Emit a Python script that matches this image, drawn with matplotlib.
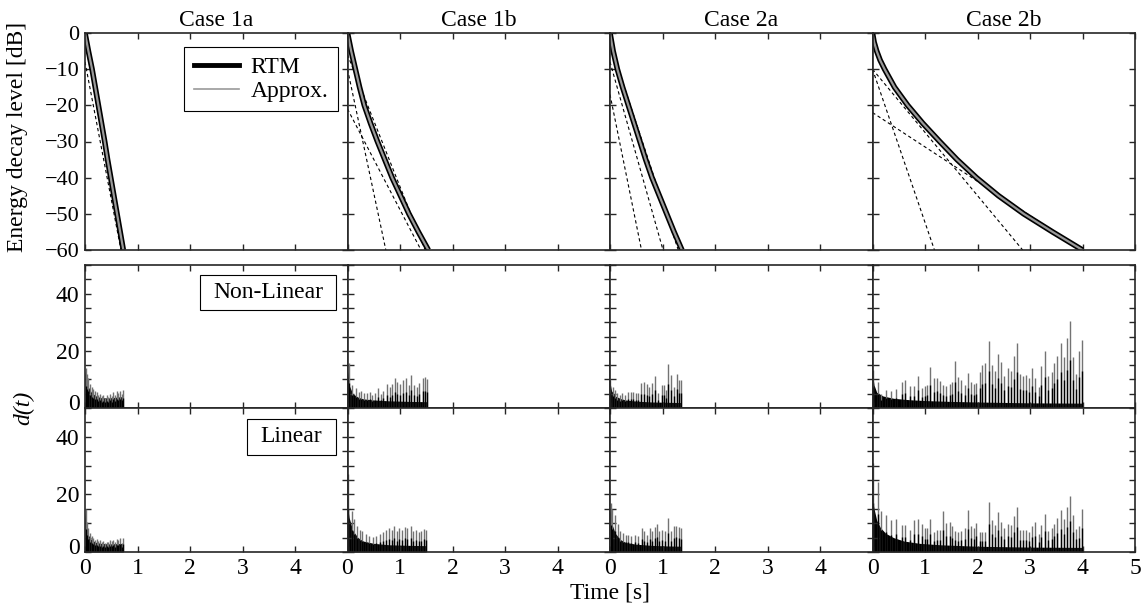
import matplotlib
matplotlib.use('Agg')
import matplotlib.pyplot as plt
import matplotlib.transforms as mtransforms
from matplotlib.lines import Line2D
from matplotlib.patches import Rectangle
from matplotlib.ticker import FixedLocator, FuncFormatter

plt.rcParams['font.family'] = ['Liberation Serif', 'DejaVu Serif']
plt.rcParams['font.size'] = 17

# ---------------- data ----------------
cases = ['Case 1a', 'Case 1b', 'Case 2a', 'Case 2b']
row_labels = ['Non-Linear', 'Linear']

# energy decay curves (time in s at the given levels in dB)
db_levels = [0, -5, -10, -15, -20, -25, -30, -35, -40, -45, -50, -55, -60]
rtm_1a_t = [0, 0.065, 0.135, 0.195, 0.255, 0.315, 0.375, 0.43, 0.49, 0.55, 0.61, 0.67, 0.73]
rtm_1b_t = [0, 0.07, 0.15, 0.23, 0.32, 0.44, 0.57, 0.71, 0.85, 1.01, 1.17, 1.35, 1.54]
rtm_2a_t = [0, 0.06, 0.14, 0.24, 0.35, 0.46, 0.57, 0.68, 0.80, 0.94, 1.08, 1.22, 1.37]
db_levels_2b = [0, -2.5, -5, -7.5, -10, -15, -20, -25, -30, -35, -40, -45, -50, -55, -60]
rtm_2b_t = [0, 0.03, 0.08, 0.145, 0.23, 0.42, 0.67, 0.96, 1.28, 1.61, 1.98, 2.40, 2.88, 3.43, 4.0]

# dashed slope lines: [t_start, dB_start, t_end, dB_end]
slopes_1a = [[0, -8, 0.685, -60], [0, -2, 0.72, -60]]
slopes_1b = [[0, -10, 0.73, -60], [0, -21, 1.40, -60], [0, -6, 1.48, -60]]
slopes_2a = [[0, -8, 1.01, -60], [0, -17, 0.60, -60], [0, -3, 1.30, -60]]
slopes_2b = [[0, -10, 1.18, -60], [0, -10, 2.86, -60], [0, -22, 4.0, -60]]

# d(t) spikes: times [s] and heights
# Case 1a
nl_1a_t = [0.019, 0.045, 0.064, 0.095, 0.127, 0.16, 0.191, 0.22, 0.254, 0.29, 0.318, 0.35, 0.382,
           0.41, 0.445, 0.48, 0.509, 0.54, 0.573, 0.60, 0.636, 0.67, 0.700, 0.725]
nl_1a_h = [14.0, 12.0, 10.5, 8.5, 7.3, 6.5, 5.8, 5.5, 4.7, 5.0, 4.1, 4.6, 3.5, 4.4, 3.8, 5.0, 4.1,
           5.5, 4.7, 5.8, 5.2, 6.0, 5.0, 6.2]
nl_1a_base_t = [0, 0.02, 0.06, 0.12, 0.2, 0.3, 0.45, 0.6, 0.73]
nl_1a_base_h = [13, 10, 7.5, 5.5, 4.3, 3.6, 3.5, 3.8, 4.0]
li_1a_t = [0.019, 0.045, 0.064, 0.095, 0.127, 0.16, 0.191, 0.22, 0.254, 0.29, 0.318, 0.35, 0.382,
           0.41, 0.445, 0.48, 0.509, 0.54, 0.573, 0.60, 0.636, 0.67, 0.700, 0.725]
li_1a_h = [14.8, 10.5, 8.4, 6.5, 5.5, 5.0, 4.3, 4.5, 3.7, 4.0, 3.4, 3.8, 3.1, 3.6, 3.3, 4.0, 3.7,
           4.2, 3.4, 4.5, 4.3, 4.8, 3.1, 5.0]
li_1a_base_t = [0, 0.02, 0.06, 0.12, 0.2, 0.3, 0.45, 0.6, 0.73]
li_1a_base_h = [14, 9, 6.0, 4.3, 3.4, 3.0, 2.8, 2.9, 3.0]

# Case 1b
nl_1b_t = [0.02, 0.089, 0.153, 0.216, 0.261, 0.312, 0.363, 0.420, 0.471, 0.522, 0.579, 0.630, 0.681,
           0.744, 0.802, 0.840, 0.897, 0.948, 0.999, 1.062, 1.119, 1.170, 1.215, 1.266, 1.317,
           1.368, 1.431, 1.469, 1.508]
nl_1b_h = [15.6, 8.0, 6.9, 5.7, 5.9, 5.4, 5.1, 5.7, 4.5, 5.4, 6.9, 4.9, 6.1, 8.4, 7.2, 8.4, 10.4,
           9.2, 8.4, 9.8, 10.4, 8.0, 11.5, 8.0, 7.5, 8.9, 10.6, 11.0, 10.0]
nl_1b_base_t = [0, 0.03, 0.1, 0.2, 0.3, 0.5, 0.8, 1.2, 1.52]
nl_1b_base_h = [13, 8, 5.0, 3.8, 3.2, 2.8, 2.5, 2.3, 2.2]
li_1b_t = [0.01, 0.085, 0.131, 0.184, 0.237, 0.283, 0.348, 0.414, 0.480, 0.545, 0.611, 0.677, 0.742,
           0.788, 0.841, 0.894, 0.940, 0.986, 1.038, 1.091, 1.137, 1.202, 1.248, 1.301, 1.353,
           1.406, 1.465, 1.498]
li_1b_h = [27.0, 14.2, 11.3, 9.0, 7.8, 7.2, 6.1, 5.5, 5.2, 5.7, 6.3, 7.0, 7.5, 8.4, 7.6, 9.0, 7.2,
           8.4, 7.6, 8.6, 8.2, 9.0, 7.2, 7.8, 6.9, 7.2, 8.0, 7.6]
li_1b_base_t = [0, 0.03, 0.1, 0.2, 0.3, 0.5, 0.8, 1.2, 1.5]
li_1b_base_h = [16, 12, 7.5, 5.0, 3.8, 3.0, 2.5, 2.3, 2.2]

# Case 2a
nl_2a_t = [0.005, 0.051, 0.095, 0.140, 0.191, 0.235, 0.286, 0.350, 0.394, 0.445, 0.496, 0.541, 0.585,
           0.649, 0.700, 0.751, 0.795, 0.865, 0.922, 0.986, 1.031, 1.062, 1.113, 1.164, 1.221,
           1.272, 1.317, 1.349]
nl_2a_h = [9.8, 7.5, 6.3, 5.1, 4.5, 5.1, 4.5, 5.7, 5.7, 5.7, 5.4, 5.1, 8.9, 9.2, 8.3, 7.5, 8.9,
           11.2, 5.1, 8.0, 8.0, 6.3, 15.4, 11.5, 7.5, 11.8, 9.8, 9.8]
nl_2a_base_t = [0, 0.03, 0.1, 0.2, 0.3, 0.5, 0.8, 1.1, 1.36]
nl_2a_base_h = [9, 6, 4.2, 3.3, 2.8, 2.4, 2.1, 2.0, 1.9]
li_2a_t = [0.01, 0.046, 0.099, 0.145, 0.191, 0.243, 0.296, 0.342, 0.407, 0.473, 0.539, 0.604, 0.650,
           0.703, 0.756, 0.802, 0.848, 0.887, 0.933, 0.999, 1.045, 1.110, 1.163, 1.216, 1.261,
           1.307, 1.360]
li_2a_h = [17.0, 14.8, 13.0, 9.6, 7.2, 6.6, 6.0, 6.0, 5.7, 6.0, 5.5, 8.4, 7.2, 6.0, 8.4, 7.2, 8.7,
           9.6, 7.2, 7.8, 7.2, 11.9, 7.2, 9.0, 9.2, 8.7, 8.4]
li_2a_base_t = [0, 0.03, 0.1, 0.2, 0.3, 0.5, 0.8, 1.1, 1.36]
li_2a_base_h = [15, 10, 6.5, 4.3, 3.3, 2.7, 2.3, 2.1, 2.0]

# Case 2b
t_2b = [0.006, 0.102, 0.165, 0.261, 0.356, 0.452, 0.560, 0.623, 0.719, 0.789, 0.865, 0.941, 1.005,
        1.043, 1.094, 1.164, 1.228, 1.279, 1.342, 1.406, 1.469, 1.514, 1.565, 1.628, 1.692, 1.756,
        1.819, 1.870, 1.927, 1.978, 2.048, 2.093, 2.150, 2.220, 2.284, 2.341, 2.392, 2.456, 2.506,
        2.583, 2.634, 2.691, 2.748, 2.812, 2.869, 2.920, 2.977, 3.047, 3.104, 3.168, 3.219, 3.282,
        3.346, 3.410, 3.461, 3.518, 3.581, 3.645, 3.702, 3.753, 3.810, 3.868, 3.931, 3.982]
nl_2b_h = [13.3, 9.2, 5.0, 6.3, 6.0, 6.5, 9.2, 9.8, 7.7, 7.8, 11.2, 6.9, 7.7, 8.0, 14.5, 10.4, 10.6,
           9.6, 8.0, 7.8, 8.3, 9.2, 16.5, 10.7, 9.8, 8.0, 12.4, 9.2, 8.4, 8.9, 12.7, 15.0, 15.6, 23.5,
           15.0, 12.9, 18.9, 16.2, 11.2, 14.1, 13.1, 18.2, 22.8, 11.8, 11.2, 11.5, 10.4, 14.1, 10.4,
           7.5, 14.7, 20.0, 11.2, 12.7, 15.6, 18.3, 22.6, 17.9, 24.4, 30.3, 18.0, 12.0, 20.0, 23.7]
li_2b_h = [31.0, 24.2, 14.1, 12.9, 11.0, 11.4, 9.4, 9.4, 7.7, 11.2, 11.4, 9.8, 8.3, 8.3, 11.4, 6.8,
           7.7, 7.7, 14.1, 10.0, 10.3, 8.9, 7.3, 6.8, 7.3, 8.3, 14.5, 9.1, 8.3, 10.0, 7.1, 6.8, 7.1,
           17.4, 11.2, 9.4, 13.8, 10.3, 8.3, 9.8, 9.4, 12.4, 15.6, 7.7, 7.5, 7.7, 7.1, 9.2, 10.3, 6.3,
           9.4, 13.2, 7.3, 8.3, 9.8, 11.8, 14.5, 11.4, 15.5, 19.3, 12.7, 7.9, 8.9, 14.9]
nl_2b_base_t = [0, 0.03, 0.08, 0.2, 0.4, 0.7, 1.0, 1.5, 2.0, 3.0, 4.0]
nl_2b_base_h = [12, 8, 5.5, 4.2, 3.4, 2.9, 2.6, 2.3, 2.1, 1.8, 1.7]
li_2b_base_t = [0, 0.03, 0.08, 0.15, 0.25, 0.4, 0.6, 0.9, 1.3, 2.0, 3.0, 4.0]
li_2b_base_h = [18, 15, 11, 8.5, 6.5, 5.0, 3.8, 3.0, 2.5, 2.0, 1.7, 1.6]

rtm = [(rtm_1a_t, db_levels), (rtm_1b_t, db_levels), (rtm_2a_t, db_levels), (rtm_2b_t, db_levels_2b)]
slopes = [slopes_1a, slopes_1b, slopes_2a, slopes_2b]
nl = [(nl_1a_t, nl_1a_h, nl_1a_base_t, nl_1a_base_h),
      (nl_1b_t, nl_1b_h, nl_1b_base_t, nl_1b_base_h),
      (nl_2a_t, nl_2a_h, nl_2a_base_t, nl_2a_base_h),
      (t_2b, nl_2b_h, nl_2b_base_t, nl_2b_base_h)]
li = [(li_1a_t, li_1a_h, li_1a_base_t, li_1a_base_h),
      (li_1b_t, li_1b_h, li_1b_base_t, li_1b_base_h),
      (li_2a_t, li_2a_h, li_2a_base_t, li_2a_base_h),
      (t_2b, li_2b_h, li_2b_base_t, li_2b_base_h)]

# ---------------- layout ----------------
W, H = 1144, 612
fig = plt.figure(figsize=(W / 100, H / 100), dpi=100)
col_left = [85, 347.5, 610, 872.5]
col_w = 262.5
rows = [(33, 250), (265, 408), (408, 552)]
# label boxes in axes fractions: (x0, x1, y0, y1)
label_boxes = [(0.438, 0.956, 0.685, 0.930), (0.617, 0.956, 0.674, 0.924)]

def make_ax(c, r):
    top, bot = rows[r]
    return fig.add_axes([col_left[c] / W, 1 - bot / H, col_w / W, (bot - top) / H])

def style(ax):
    ax.tick_params(direction='in', top=True, right=True, length=4, width=1,
                   labelsize=17, pad=4, color='0.15')
    for s in ax.spines.values():
        s.set_linewidth(1.2)
        s.set_color('0.15')
    ax.set_xlim(0, 5)
    ax.xaxis.set_major_locator(FixedLocator([0, 1, 2, 3, 4, 5]))

def fmt_x(c):
    if c == 3:
        return FuncFormatter(lambda v, p: '%d' % v)
    return FuncFormatter(lambda v, p: '%d' % v if v < 4.5 else '')

def fmt_d(v, p):
    return '%d' % v if int(round(v)) in (0, 20, 40) else ''

d_axes_first_col = []
for c in range(4):
    # top row
    ax = make_ax(c, 0)
    style(ax)
    ax.tick_params(axis='y', labelsize=16)
    ax.set_ylim(-60, 0)
    ax.yaxis.set_major_locator(FixedLocator([0, -10, -20, -30, -40, -50, -60]))
    for s in slopes[c]:
        ax.plot([s[0], s[2]], [s[1], s[3]], color='black', lw=0.8, ls=(0, (3, 2.5)))
    tt, dd = rtm[c]
    ax.plot(tt, dd, color='black', lw=4.0, solid_capstyle='butt', solid_joinstyle='round')
    ax.plot(tt, dd, color='0.6', lw=1.6, solid_joinstyle='round')
    ax.set_title(cases[c], fontsize=17, pad=5)
    ax.tick_params(labelbottom=False)
    if c > 0:
        ax.tick_params(labelleft=False)
    if c == 0:
        h1 = Line2D([], [], color='black', lw=3.5)
        h2 = Line2D([], [], color='0.6', lw=1.2)
        leg = ax.legend([h1, h2], ['RTM', 'Approx.'], loc='upper right',
                        bbox_to_anchor=(0.962, 0.935), frameon=True, fancybox=False,
                        edgecolor='black', framealpha=1, fontsize=17, handlelength=1.9,
                        handletextpad=0.5, borderpad=0.4, labelspacing=0.1,
                        borderaxespad=0)
        leg.get_frame().set_linewidth(0.8)

    # d(t) rows
    for r, data in ((1, nl), (2, li)):
        ax = make_ax(c, r)
        style(ax)
        ax.set_ylim(0, 50)
        ax.yaxis.set_major_locator(FixedLocator(list(range(0, 51, 5))))
        ax.yaxis.set_major_formatter(FuncFormatter(fmt_d))
        st, sh, bt, bh = data[c]
        ax.fill_between(bt, 0, bh, color='black', lw=0)
        ax.vlines(st, 0, sh, color='0.45', lw=1.0)
        ax.vlines(st, 0, [h * 0.55 for h in sh], color='black', lw=1.0)
        if c > 0:
            ax.tick_params(labelleft=False)
        if r == 1:
            ax.tick_params(labelbottom=False)
        else:
            ax.xaxis.set_major_formatter(fmt_x(c))
        if c == 0:
            x0, x1, y0, y1 = label_boxes[r - 1]
            ax.add_patch(Rectangle((x0, y0), x1 - x0, y1 - y0, transform=ax.transAxes,
                                   fc='white', ec='black', lw=0.8, zorder=5))
            ax.text((x0 + x1) / 2, (y0 + y1) / 2, row_labels[r - 1], transform=ax.transAxes,
                    ha='center', va='center', fontsize=17, zorder=6)
            d_axes_first_col.append(ax)

fig.text(18 / W, 1 - 137 / H, 'Energy decay level [dB]', rotation=90, ha='center',
         va='center', fontsize=17)
fig.text(24 / W, 1 - 408 / H, 'd(t)', rotation=90, ha='center', va='center',
         fontsize=17, fontstyle='italic')
fig.text(610 / W, 1 - 593 / H, 'Time [s]', ha='center', va='center', fontsize=17)

# raise the "0" tick label slightly, as in the original
fig.canvas.draw()
offset = mtransforms.ScaledTranslation(0, 6 / 100, fig.dpi_scale_trans)
for ax in d_axes_first_col:
    for tk in ax.yaxis.get_major_ticks():
        if tk.label1.get_text() == '0':
            tk.label1.set_transform(tk.label1.get_transform() + offset)

fig.savefig('out.png', dpi=100)
